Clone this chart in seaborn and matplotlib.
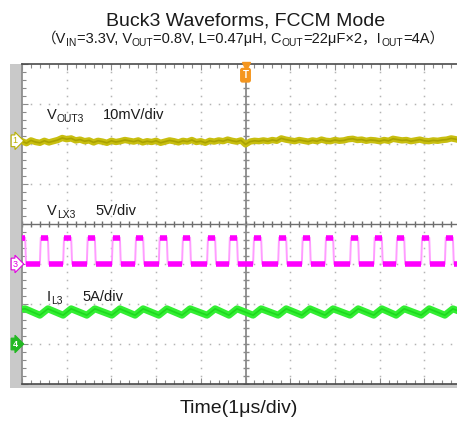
import numpy as np
import pandas as pd
import matplotlib
matplotlib.use("Agg")
import matplotlib.pyplot as plt
import matplotlib.transforms as mtransforms
from matplotlib.patches import Rectangle
import seaborn as sns

# ---------------- data (read from the scope shot) ----------------
# time axis: 1 us/div, 10 divisions
vout_t = np.round(np.arange(0, 10.01, 0.1), 2)
# VOUT3 ripple around its DC level, mV (10 mV/div)
vout_mv = [0.2, -0.3, 0.4, 0.0, -0.2, 0.3, -0.1, 0.2, 0.5,
           1.0, 0.7, 0.9, 0.4, 0.6,
           0.2, 0.4, -0.1, 0.3, 0.1, -0.2, 0.3, 0.0, 0.2, 0.5,
           0.3, 0.1, 0.4, -0.1, 0.2, 0.0, 0.3, -0.2, 0.1, 0.4,
           0.2, -0.1, 0.3, 0.1, 0.5, 0.0, 0.2, -0.2, 0.3, 0.1,
           0.4, 0.2, 0.6, 0.3, 0.1, 0.4, -0.6, 0.1, 0.3, 0.2,
           0.4, 0.2, 0.5, 0.3, 0.9, 0.6, 0.4, 0.2, 0.5, 0.3,
           0.1, 0.4, 0.2, 0.6, 0.3, 0.2, 0.5, 0.3, 0.4, 0.7,
           0.8, 0.5, 0.6, 0.3, 0.5, 0.4, 0.2, 0.5, 0.3, 0.8,
           0.6, 0.4, 0.5, 0.2, 0.4, 0.6, 0.3, 0.2, 0.4, 0.3,
           0.5, 0.6, 0.9, 0.7, 0.4, 0.5, 0.6]
# VLX3 switching edges (us), 5 V/div
lx_rise = [0.40, 0.92, 1.45, 2.01, 2.53, 3.06, 3.58, 4.14, 4.63, 5.17,
           5.73, 6.26, 6.78, 7.34, 7.87, 8.37, 8.93, 9.46, 10.0]
lx_fall = [0.07, 0.58, 1.10, 1.63, 2.19, 2.71, 3.24, 3.76, 4.32, 4.81,
           5.35, 5.91, 6.44, 6.96, 7.52, 8.05, 8.55, 9.11, 9.64]
lx_high = 3.3   # V
lx_low = 0.0    # V
# IL3 inductor current (A), 5 A/div: peaks at LX falling edges, valleys at rising edges
il_peak = [4.4, 4.4, 4.4, 4.4, 4.4, 4.4, 4.4, 4.4, 4.4, 4.4,
           4.4, 4.4, 4.4, 4.4, 4.4, 4.4, 4.4, 4.4, 4.4]
il_valley = [3.6, 3.6, 3.6, 3.6, 3.6, 3.6, 3.6, 3.6, 3.6, 3.6,
             3.6, 3.6, 3.6, 3.6, 3.6, 3.6, 3.6, 3.6, 3.6]

title = "Buck3 Waveforms, FCCM Mode"
xlabel = "Time(1μs/div)"

# channel settings: (position in div, scale per div)
ch1_pos, ch1_scale = 2.0, 10.0   # mV/div
ch3_pos, ch3_scale = -1.0, 5.0   # V/div
ch4_pos, ch4_scale = -3.0, 5.0   # A/div

# ---------------- style ----------------
sns.set_theme(style="white")
FAM = ["Liberation Sans", "Noto Sans CJK SC", "DejaVu Sans"]
plt.rcParams["font.family"] = FAM

W, H, DPI = 457, 423, 100
fig = plt.figure(figsize=(W / DPI, H / DPI), dpi=DPI)
fig.patch.set_facecolor("white")

# gray scope frame (left strip + bottom)
fig.add_artist(Rectangle((10 / W, 1 - 388 / H), 470 / W, 324 / H,
                         transform=fig.transFigure, facecolor="#c9c9c9",
                         edgecolor="none", zorder=-5))

ax = fig.add_axes([22 / W, 1 - 384 / H, 447 / W, 320 / H])
ax.set_facecolor("white")
ax.set_xlim(0, 10)
ax.set_ylim(-4, 4)

# grid: dotted lines at each division, dots every 0.2 div
gx = np.arange(0, 10.001, 0.2)
gy = np.arange(-4, 4.001, 0.2)
for xv in range(1, 10):
    if xv == 5:
        continue
    ax.plot(np.full_like(gy, xv), gy, ls="", marker="s", ms=1.1,
            color="#b4b4b4", mew=0, zorder=1)
for yv in range(-3, 4):
    if yv == 0:
        continue
    ax.plot(gx, np.full_like(gx, yv), ls="", marker="s", ms=1.1,
            color="#b4b4b4", mew=0, zorder=1)
# centre cross lines with minor ticks
ax.axhline(0, color="#6e6e6e", lw=1.0, zorder=1)
ax.axvline(5, color="#8a8a8a", lw=1.3, zorder=1)
ax.plot(gx, np.zeros_like(gx), ls="", marker="|", ms=4, color="#6e6e6e", zorder=1)
ax.plot(np.full_like(gy, 5), gy, ls="", marker="_", ms=4, color="#8a8a8a", zorder=1)

ax.set_xticks(range(0, 11))
ax.set_yticks(range(-4, 5))
ax.set_xticks(gx, minor=True)
ax.set_yticks(gy, minor=True)
ax.tick_params(which="both", direction="in", top=True, bottom=True,
               left=True, right=False, labelbottom=False, labelleft=False,
               color="#8a8a8a", length=3, width=0.8)
ax.tick_params(which="major", length=4)
for s in ["top", "bottom"]:
    ax.spines[s].set_color("#4a4a4a")
    ax.spines[s].set_linewidth(1.2)
ax.spines["left"].set_color("#8a8a8a")
ax.spines["right"].set_visible(False)

# ---------------- traces ----------------
vout_df = pd.DataFrame({"t": vout_t, "y": ch1_pos + 0.05 + np.array(vout_mv) / ch1_scale})
sns.lineplot(data=vout_df, x="t", y="y", ax=ax, color="#c8be10", lw=4.6,
             estimator=None, sort=False, zorder=3)
sns.lineplot(data=vout_df, x="t", y="y", ax=ax, color="#aaa200", lw=1.2,
             estimator=None, sort=False, zorder=3)

# LX square wave
events = sorted([(t, "r") for t in lx_rise] + [(t, "f") for t in lx_fall])
lx_t, lx_v = [0.0], [lx_high]
state = lx_high
for t, e in events:
    lx_t.append(t); lx_v.append(state)
    state = lx_high if e == "r" else lx_low
    lx_t.append(t + 0.02); lx_v.append(state)
lx_df = pd.DataFrame({"t": lx_t, "y": ch3_pos + np.array(lx_v) / ch3_scale})
sns.lineplot(data=lx_df, x="t", y="y", ax=ax, color="#ff9cff", lw=1.4,
             estimator=None, sort=False, zorder=3)
# thick plateaus
hi_starts = [0.0] + [t + 0.02 for t in lx_rise]
hi_ends = lx_fall + [10.2]
ax.hlines(np.full(len(hi_starts), ch3_pos + lx_high / ch3_scale), hi_starts, hi_ends,
          color="#ff00ff", lw=4.0, zorder=4)
ax.hlines(np.full(len(lx_fall), ch3_pos + lx_low / ch3_scale),
          [t + 0.02 for t in lx_fall], lx_rise,
          color="#ff00ff", lw=4.0, zorder=4)

# IL triangle
il_events = sorted([(t, v) for t, v in zip(lx_fall, il_peak)] +
                   [(t, v) for t, v in zip(lx_rise, il_valley)])
il_t = [0.0] + [e[0] for e in il_events]
il_a = [il_peak[0] - 0.05] + [e[1] for e in il_events]
il_df = pd.DataFrame({"t": il_t, "y": ch4_pos + np.array(il_a) / ch4_scale})
sns.lineplot(data=il_df, x="t", y="y", ax=ax, color="#33ee33", lw=5.0,
             estimator=None, sort=False, zorder=3)
sns.lineplot(data=il_df, x="t", y="y", ax=ax, color="#1ed81e", lw=1.2,
             estimator=None, sort=False, zorder=3)
ax.set_xlabel(""); ax.set_ylabel("")

# ---------------- markers ----------------
blend = mtransforms.blended_transform_factory(fig.transFigure, ax.transData)
ax.text(15 / W, ch1_pos + 0.08, "1", transform=blend, ha="center", va="center",
        fontsize=6.5, color="#b8b000", family=FAM,
        bbox=dict(boxstyle="rarrow,pad=0.15", fc="white", ec="#b8b000", lw=0.8),
        clip_on=False, zorder=6)
ax.text(15 / W, ch3_pos, "3", transform=blend, ha="center", va="center",
        fontsize=6.5, color="#e000e0", family=FAM,
        bbox=dict(boxstyle="rarrow,pad=0.15", fc="white", ec="#e000e0", lw=0.8),
        clip_on=False, zorder=6)
ax.text(15 / W, ch4_pos, "4", transform=blend, ha="center", va="center",
        fontsize=6.5, color="white", family=FAM, fontweight="bold",
        bbox=dict(boxstyle="rarrow,pad=0.15", fc="#22b822", ec="#22b822", lw=0.8),
        clip_on=False, zorder=6)
# trigger marker
ax.plot([5], [3.96], marker="v", ms=5.5, color="#f5961e", clip_on=False, zorder=6)
ax.text(5, 3.72, "T", ha="center", va="center", fontsize=7, color="white",
        fontweight="bold", family=FAM,
        bbox=dict(boxstyle="round,pad=0.18", fc="#f5961e", ec="#f5961e"), zorder=6)

# ---------------- rich text helper (subscripts) ----------------
renderer = fig.canvas.get_renderer()
ID = mtransforms.IdentityTransform()


def rich(x, ybase, parts, size, ha="left", color="#1a1a1a"):
    """parts: list of (text, is_sub); x,ybase in image pixels (from top-left)."""
    sub_size = size * 0.7
    widths = []
    for txt, sub in parts:
        t = fig.text(0, 0, txt, fontsize=sub_size if sub else size, family=FAM,
                     transform=ID)
        widths.append(t.get_window_extent(renderer).width)
        t.remove()
    total = sum(widths)
    if ha == "center":
        x = x - total / 2
    for (txt, sub), w in zip(parts, widths):
        dy = -size * 0.2 * DPI / 72 if sub else 0
        fig.text(x, H - ybase + dy, txt, fontsize=sub_size if sub else size,
                 family=FAM, transform=ID, va="baseline", ha="left", color=color)
        x += w


rich(246, 25, [(title, False)], 14, ha="center")
rich(243, 43, [("（V", False), ("IN", True), ("=3.3V, V", False), ("OUT", True),
               ("=0.8V, L=0.47μH, C", False), ("OUT", True), ("=22μF×2，I", False),
               ("OUT", True), ("=4A）", False)], 10.5, ha="center")
rich(239, 413, [(xlabel, False)], 14, ha="center")

rich(47, 119, [("V", False), ("OUT3", True)], 10.5)
rich(103, 119, [("10mV/div", False)], 10.5)
rich(47, 215, [("V", False), ("LX3", True)], 10.5)
rich(95, 215, [("5V/div", False)], 10.5)
rich(47, 301, [("I", False), ("L3", True)], 10.5)
rich(82, 301, [("5A/div", False)], 10.5)

fig.savefig("out.png", dpi=DPI)
